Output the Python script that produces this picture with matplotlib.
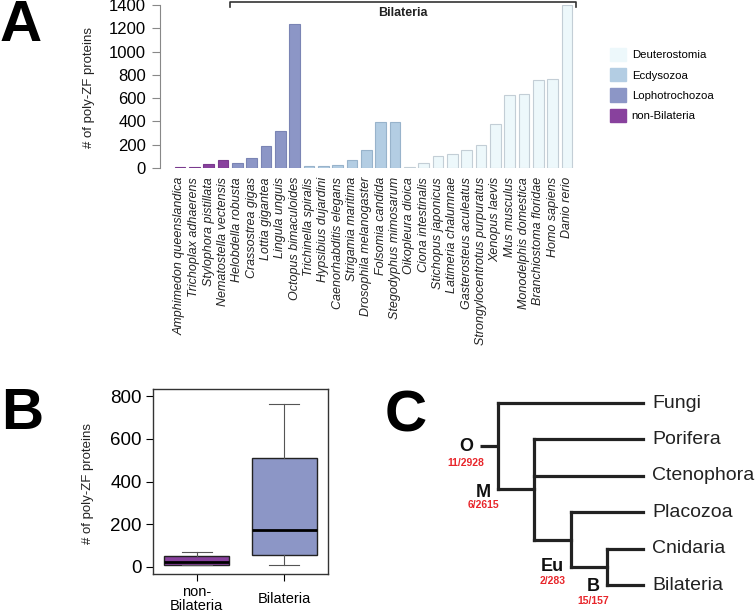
import numpy as np
import matplotlib
matplotlib.use("Agg")
import matplotlib.pyplot as plt
from matplotlib.patches import Patch

plt.rcParams['font.family'] = ['Liberation Sans', 'DejaVu Sans']

# %% Data
species = ['Amphimedon queenslandica', 'Trichoplax adhaerens', 'Stylophora pistillata',
           'Nematostella vectensis', 'Helobdella robusta', 'Crassostrea gigas',
           'Lottia gigantea', 'Lingula unguis', 'Octopus bimaculoides',
           'Trichinella spiralis', 'Hypsibius dujardini', 'Caenorhabditis elegans',
           'Strigamia maritima', 'Drosophila melanogaster', 'Folsomia candida',
           'Stegodyphus mimosarum', 'Oikopleura dioica', 'Ciona intestinalis',
           'Stichopus japonicus', 'Latimeria chalumnae', 'Gasterosteus aculeatus',
           'Strongylocentrotus purpuratus', 'Xenopus laevis', 'Mus musculus',
           'Monodelphis domestica', 'Branchiostoma floridae', 'Homo sapiens', 'Danio rerio']
counts = [10, 10, 37, 69, 46, 89, 192, 318, 1241, 20, 20, 29, 69, 158, 393, 393,
          11, 43, 103, 123, 155, 198, 378, 630, 636, 754, 762, 1400]
groups = ['non-Bilateria'] * 4 + ['Lophotrochozoa'] * 5 + ['Ecdysozoa'] * 7 + ['Deuterostomia'] * 12

group_order = ['Deuterostomia', 'Ecdysozoa', 'Lophotrochozoa', 'non-Bilateria']
group_fill = {'Deuterostomia': '#edf8fb', 'Ecdysozoa': '#b3cde3',
              'Lophotrochozoa': '#8c96c6', 'non-Bilateria': '#88419d'}
group_edge = {'Deuterostomia': '#c3ced6', 'Ecdysozoa': '#98b3cb',
              'Lophotrochozoa': '#7a84b4', 'non-Bilateria': '#7a3a8e'}

box_labels = ['non-\nBilateria', 'Bilateria']

# tree for panel C
tree = ('Fungi', ('Porifera', 'Ctenophora', ('Placozoa', ('Cnidaria', 'Bilateria'))))
node_names = ['O', 'M', 'Eu', 'B']
node_counts = ['11/2928', '6/2615', '2/283', '15/157']
node_offsets = [(-23, 0), (-33, 3), (0, 27), (5, 20)]  # pixels from branch midpoint
count_gap = [17, 13, 15, 14]

W, H = 756, 612
fig = plt.figure(figsize=(W / 100, H / 100), dpi=100)


def px_axes(left, top, right, bottom):
    return fig.add_axes([left / W, 1 - bottom / H, (right - left) / W, (bottom - top) / H])


# %% Panel A
axA = px_axes(160, 5, 580, 168)
xs = np.arange(len(species))
axA.bar(xs, counts, width=0.76,
        color=[group_fill[g] for g in groups],
        edgecolor=[group_edge[g] for g in groups], linewidth=0.8)
axA.set_xlim((160 - 180) / 14.333, (580 - 180) / 14.333)
axA.set_ylim(0, 1400)
axA.set_yticks(np.arange(0, 1401, 200))
axA.tick_params(axis='y', labelsize=12, length=6, width=0.8, color='#888888', pad=4)
axA.set_xticks(xs)
axA.set_xticklabels(species, rotation=90, fontsize=9, style='italic', color='#222222')
axA.tick_params(axis='x', length=0, pad=6.5)
for s in ['top', 'right', 'bottom']:
    axA.spines[s].set_visible(False)
axA.spines['left'].set_color('#888888')
axA.spines['left'].set_linewidth(0.8)

# Bilateria bracket
axA.plot([3.5, 3.5, 27.63, 27.63], [1383, 1426, 1426, 1383], color='#333333',
         lw=1.2, clip_on=False)
axA.text(15.56, 1331, 'Bilateria', ha='center', va='center', fontsize=9,
         fontweight='bold', color='#222222')

handles = [Patch(facecolor=group_fill[g], edgecolor=group_fill[g], label=g) for g in group_order]
fig.legend(handles=handles, loc='upper left', bbox_to_anchor=(610 / W, 1 - 48 / H),
           frameon=False, fontsize=8.2, handlelength=1.4, handleheight=1.4,
           handletextpad=0.5, labelspacing=0.62, borderpad=0, borderaxespad=0)

fig.text(89 / W, 1 - 88 / H, '# of poly-ZF proteins', rotation=90, ha='center',
         va='center', fontsize=9.5, color='#222222')
fig.text(0, 1 - 26 / H, 'A', fontsize=42, fontweight='bold', va='center', ha='left')


# %% Panel B
def box_stats(vals, label):
    v = np.sort(np.asarray(vals, dtype=float))
    n = len(v)
    med = np.median(v)
    half = (n + 1) // 2
    lo_h = np.median(v[:half])
    hi_h = np.median(v[n - half:])
    iqr = hi_h - lo_h
    whislo = v[v >= lo_h - 1.5 * iqr].min()
    whishi = v[v <= hi_h + 1.5 * iqr].max()
    return dict(med=med, q1=lo_h, q3=hi_h, whislo=whislo, whishi=whishi, label=label)


non_bil = [c for c, g in zip(counts, groups) if g == 'non-Bilateria']
bil = [c for c, g in zip(counts, groups) if g != 'non-Bilateria']

axB = px_axes(153, 389, 328, 574)
bp = axB.bxp([box_stats(non_bil, box_labels[0]), box_stats(bil, box_labels[1])],
             positions=[1, 2], widths=0.74, showfliers=False, patch_artist=True,
             boxprops=dict(edgecolor='#222222', linewidth=1.0),
             medianprops=dict(color='black', linewidth=2),
             whiskerprops=dict(color='#555555', linewidth=0.8),
             capprops=dict(color='#555555', linewidth=0.8), capwidths=0.34)
for patch, col in zip(bp['boxes'], [group_fill['non-Bilateria'], group_fill['Lophotrochozoa']]):
    patch.set_facecolor(col)
axB.set_xlim(0.5, 2.5)
axB.set_ylim(-33, 833)
axB.set_yticks(np.arange(0, 801, 200))
axB.tick_params(axis='y', labelsize=13.5, length=5, width=0.8, pad=3)
axB.tick_params(axis='x', labelsize=10.5, length=5, width=0.8, pad=13)
for lab in axB.get_xticklabels():
    lab.set_va('center')
    lab.set_linespacing(0.92)
for s in axB.spines.values():
    s.set_color('#333333')
    s.set_linewidth(1.0)

fig.text(88.5 / W, 1 - 483 / H, '# of poly-ZF proteins', rotation=90, ha='center',
         va='center', fontsize=9.5, color='#222222')
fig.text(1 / W, 1 - 414 / H, 'B', fontsize=42, fontweight='bold', va='center', ha='left')

# %% Panel C
axC = px_axes(380, 360, 756, 612)
axC.set_xlim((380 - 498) / 36.25, (756 - 498) / 36.25)
axC.set_ylim((612 - 403) / 36.4, (360 - 403) / 36.4)
axC.axis('off')

tips = []
internal = []
tip_depth = 4
lw_tree = 2.3


def draw_clade(node, depth, parent_x):
    if isinstance(node, str):
        y = len(tips)
        tips.append((node, y))
        return tip_depth, y
    idx = len(internal)
    internal.append(None)
    child_pos = [draw_clade(c, depth + 1, depth) for c in node]
    ys = [p[1] for p in child_pos]
    y = (min(ys) + max(ys)) / 2
    axC.plot([depth, depth], [min(ys), max(ys)], color='#222222', lw=lw_tree,
             solid_capstyle='projecting')
    for cx, cy in child_pos:
        axC.plot([depth, cx], [cy, cy], color='#222222', lw=lw_tree,
                 solid_capstyle='projecting')
    internal[idx] = ((parent_x + depth) / 2, y)
    return depth, y


_, root_y = draw_clade(tree, 0, -0.5)
axC.plot([-0.5, 0], [root_y, root_y], color='#222222', lw=lw_tree, solid_capstyle='butt')

for name, y in tips:
    axC.text(tip_depth + 9 / 36.25, y, name, ha='left', va='center', fontsize=14,
             color='#222222')

for (mx, my), name, cnt, (dx, dy), gap in zip(internal, node_names, node_counts,
                                              node_offsets, count_gap):
    axC.annotate(name, (mx, my), xytext=(dx, -dy), textcoords='offset pixels',
                 ha='center', va='center', fontsize=13, fontweight='bold', color='#111111')
    axC.annotate(cnt, (mx, my), xytext=(dx, -dy - gap), textcoords='offset pixels',
                 ha='center', va='center', fontsize=7.5, fontweight='bold', color='#e8262b')

fig.text(385 / W, 1 - 416 / H, 'C', fontsize=42, fontweight='bold', va='center', ha='left')

fig.savefig('out.png', dpi=100)
